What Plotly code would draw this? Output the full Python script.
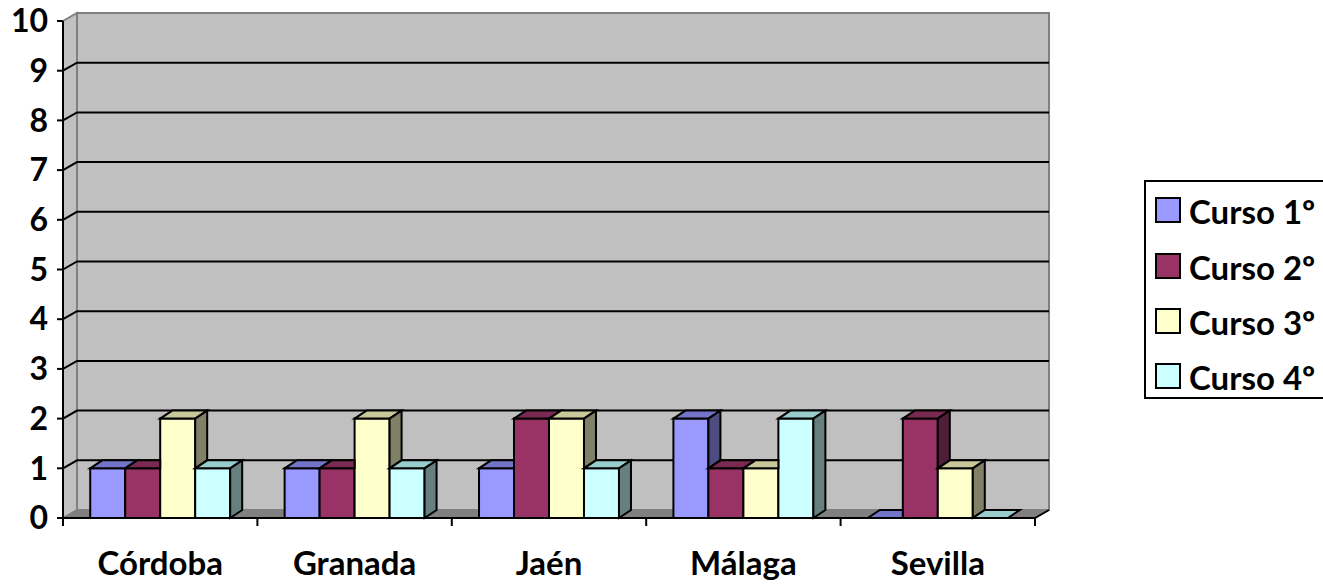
import plotly.graph_objects as go

# ---------------- data ----------------
categories = ["Córdoba", "Granada", "Jaén", "Málaga", "Sevilla"]
series_names = ["Curso 1º", "Curso 2º", "Curso 3º", "Curso 4º"]
curso1 = [1, 1, 1, 2, 0]
curso2 = [1, 1, 2, 1, 2]
curso3 = [2, 2, 2, 1, 1]
curso4 = [1, 1, 1, 2, 0]
y_ticks = list(range(0, 11))

series_values = [curso1, curso2, curso3, curso4]

# ---------------- style ----------------
front_colors = ["#9999FF", "#993366", "#FFFFCC", "#CCFFFF"]
top_colors = ["#7373C8", "#7A2952", "#C8C89A", "#99CCCC"]
side_colors = ["#4D4D80", "#521D3B", "#808066", "#668080"]
FONT = "Lato"
FSIZE = 33
YFSIZE = 32

W, H = 1323, 586
PX0, PX1 = 63, 1035      # pixel x of category edges -0.5 and 4.5
PY0 = 518                # pixel y of value 0
UY = 49.7                # pixels per unit of value
UX = (PX1 - PX0) / 5.0   # pixels per category
PL, PR, PT, PB = 53, 1056, 6, 532  # plot area in pixels

x_min = -0.5 - (PX0 - PL) / UX
x_max = 4.5 + (PR - PX1) / UX
y_min = -(PB - PY0) / UY
y_max = (PY0 - PT) / UY

# depth offsets (pixels -> data units)
DXW, DYW = 14 / UX, 8 / UY   # walls / floor
BDX, BDY = 12 / UX, 8 / UY   # bars

BARGAP = 0.28
nser = len(series_values)
bw = (1 - BARGAP) / nser

XL, XR = -0.5, len(categories) - 0.5


def px2paper_x(px):
    return (px - PL) / (PR - PL)


def px2paper_y(py):
    return (PB - py) / (PB - PT)


def poly(points):
    return "M " + " L ".join(f"{x:.5f},{y:.5f}" for x, y in points) + " Z"


fig = go.Figure()
for name, vals, col in zip(series_names, series_values, front_colors):
    fig.add_trace(go.Bar(
        x=list(range(len(categories))), y=vals, name=name,
        marker=dict(color=col, line=dict(color="black", width=2)),
        showlegend=False, hoverinfo="skip",
    ))

shapes = []
# side wall
shapes.append(dict(type="path", layer="below", xref="x", yref="y",
                   path=poly([(XL, 0), (XL + DXW, DYW), (XL + DXW, 10 + DYW), (XL, 10)]),
                   fillcolor="#C0C0C0", line=dict(color="#808080", width=2)))
# back wall
shapes.append(dict(type="rect", layer="below", xref="x", yref="y",
                   x0=XL + DXW, x1=XR + DXW, y0=DYW, y1=10 + DYW,
                   fillcolor="#C0C0C0", line=dict(color="#808080", width=2)))
# floor
shapes.append(dict(type="path", layer="below", xref="x", yref="y",
                   path=poly([(XL, 0), (XR, 0), (XR + DXW, DYW), (XL + DXW, DYW)]),
                   fillcolor="#808080", line=dict(color="#808080", width=1)))
# gridlines
for v in y_ticks[1:-1]:
    shapes.append(dict(type="path", layer="below", xref="x", yref="y",
                       path=f"M {XL},{v} L {XL + DXW},{v + DYW} L {XR + DXW},{v + DYW}",
                       line=dict(color="black", width=2)))
# floor front edge + right edge
shapes.append(dict(type="path", layer="below", xref="x", yref="y",
                   path=f"M {XL},0 L {XR},0 L {XR + DXW},{DYW}",
                   line=dict(color="black", width=2)))

# 3D faces of bars
for j, vals in enumerate(series_values):
    for i, h in enumerate(vals):
        xl = i - (1 - BARGAP) / 2 + j * bw
        xr = xl + bw
        hn = series_values[j + 1][i] if j < nser - 1 else None
        if hn is not None and hn > h:
            top = [(xl, h), (xr, h), (xr, h + BDY), (xl + BDX, h + BDY)]
        else:
            top = [(xl, h), (xr, h), (xr + BDX, h + BDY), (xl + BDX, h + BDY)]
        shapes.append(dict(type="path", layer="above", xref="x", yref="y",
                           path=poly(top), fillcolor=top_colors[j],
                           line=dict(color="black", width=2)))
        if hn is None:
            b = 0
        elif hn < h:
            b = hn
        else:
            b = None
        if b is not None and h > b:
            side = [(xr, b), (xr + BDX, b + BDY), (xr + BDX, h + BDY), (xr, h)]
            shapes.append(dict(type="path", layer="above", xref="x", yref="y",
                               path=poly(side), fillcolor=side_colors[j],
                               line=dict(color="black", width=2)))

# value axis line and tick marks
shapes.append(dict(type="line", layer="above", xref="x", yref="y",
                   x0=XL, x1=XL, y0=0, y1=10, line=dict(color="black", width=2)))
for v in y_ticks:
    shapes.append(dict(type="line", layer="above", xref="x", yref="y",
                       x0=XL - 6 / UX, x1=XL, y0=v, y1=v, line=dict(color="black", width=2)))
# category axis tick marks
for k in range(len(categories) + 1):
    xb = XL + k
    shapes.append(dict(type="line", layer="above", xref="x", yref="y",
                       x0=xb, x1=xb, y0=0, y1=-8 / UY, line=dict(color="black", width=2)))

# legend (manual)
annotations = []
shapes.append(dict(type="rect", xref="paper", yref="paper",
                   x0=px2paper_x(1145), x1=px2paper_x(1340),
                   y0=px2paper_y(398), y1=px2paper_y(181),
                   fillcolor="white", line=dict(color="black", width=2)))
leg_centers = [210, 266, 321, 376]
for name, col, cy in zip(series_names, front_colors, leg_centers):
    shapes.append(dict(type="rect", xref="paper", yref="paper",
                       x0=px2paper_x(1156), x1=px2paper_x(1180),
                       y0=px2paper_y(cy + 12), y1=px2paper_y(cy - 12),
                       fillcolor=col, line=dict(color="black", width=2)))
    annotations.append(dict(xref="paper", yref="paper", x=px2paper_x(1187), y=px2paper_y(cy + 1),
                            xanchor="left", yanchor="middle", showarrow=False, text=name,
                            font=dict(family=FONT, size=FSIZE, color="black", weight="bold")))

fig.update_layout(
    width=W, height=H,
    margin=dict(l=PL, r=W - PR, t=PT, b=H - PB, pad=0, autoexpand=False),
    paper_bgcolor="white", plot_bgcolor="white",
    barmode="group", bargap=BARGAP, bargroupgap=0,
    showlegend=False, hovermode=False,
    shapes=shapes, annotations=annotations,
    xaxis=dict(range=[x_min, x_max], tickvals=list(range(len(categories))), ticktext=categories,
               ticks="", showgrid=False, zeroline=False, showline=False, automargin=False,
               tickfont=dict(family=FONT, size=FSIZE, color="black", weight="bold"),
               ticklabelstandoff=9),
    yaxis=dict(range=[y_min, y_max], tickvals=y_ticks, ticks="", showgrid=False, zeroline=False,
               showline=False, automargin=False, ticklabeloverflow="allow",
               tickfont=dict(family=FONT, size=YFSIZE, color="black", weight="bold"),
               ticklabelstandoff=4),
)

fig.write_html("out.html", config={"displayModeBar": False},
               post_script="document.body.style.margin='0';document.body.style.overflow='hidden';")
